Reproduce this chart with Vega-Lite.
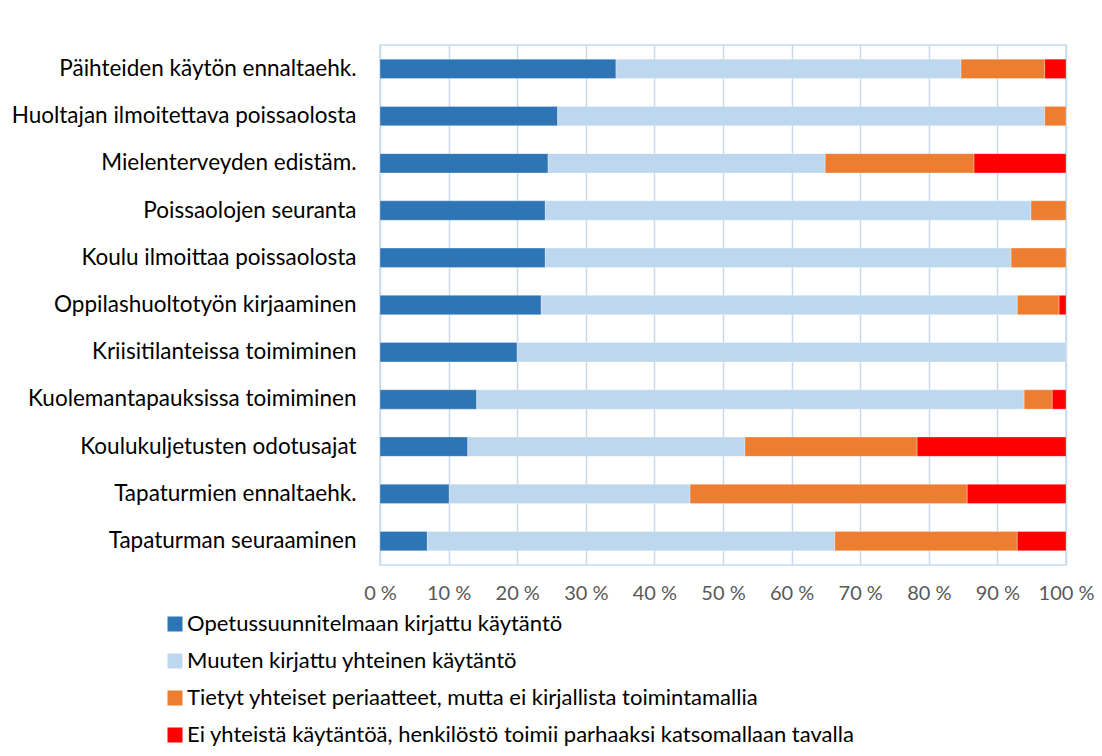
{
  "$schema": "https://vega.github.io/schema/vega-lite/v6.json",
  "width": 686,
  "height": 520,
  "autosize": {"type": "none"},
  "padding": {"left": 380, "top": 45, "right": 36, "bottom": 191},
  "background": "white",
  "config": {
    "font": "Lato",
    "view": {"stroke": "#C6DAEE", "strokeWidth": 1.5},
    "axis": {"domain": false, "ticks": false}
  },
  "data": {"values": [
    {"item": "Päihteiden käytön ennaltaehk.", "category": "Opetussuunnitelmaan kirjattu käytäntö", "rank": 1, "value": 34.4},
    {"item": "Päihteiden käytön ennaltaehk.", "category": "Muuten kirjattu yhteinen käytäntö", "rank": 2, "value": 50.3},
    {"item": "Päihteiden käytön ennaltaehk.", "category": "Tietyt yhteiset periaatteet, mutta ei kirjallista toimintamallia", "rank": 3, "value": 12.2},
    {"item": "Päihteiden käytön ennaltaehk.", "category": "Ei yhteistä käytäntöä, henkilöstö toimii parhaaksi katsomallaan tavalla", "rank": 4, "value": 3.1},
    {"item": "Huoltajan ilmoitettava poissaolosta", "category": "Opetussuunnitelmaan kirjattu käytäntö", "rank": 1, "value": 25.9},
    {"item": "Huoltajan ilmoitettava poissaolosta", "category": "Muuten kirjattu yhteinen käytäntö", "rank": 2, "value": 71.0},
    {"item": "Huoltajan ilmoitettava poissaolosta", "category": "Tietyt yhteiset periaatteet, mutta ei kirjallista toimintamallia", "rank": 3, "value": 3.1},
    {"item": "Mielenterveyden edistäm.", "category": "Opetussuunnitelmaan kirjattu käytäntö", "rank": 1, "value": 24.5},
    {"item": "Mielenterveyden edistäm.", "category": "Muuten kirjattu yhteinen käytäntö", "rank": 2, "value": 40.4},
    {"item": "Mielenterveyden edistäm.", "category": "Tietyt yhteiset periaatteet, mutta ei kirjallista toimintamallia", "rank": 3, "value": 21.7},
    {"item": "Mielenterveyden edistäm.", "category": "Ei yhteistä käytäntöä, henkilöstö toimii parhaaksi katsomallaan tavalla", "rank": 4, "value": 13.4},
    {"item": "Poissaolojen seuranta", "category": "Opetussuunnitelmaan kirjattu käytäntö", "rank": 1, "value": 24.1},
    {"item": "Poissaolojen seuranta", "category": "Muuten kirjattu yhteinen käytäntö", "rank": 2, "value": 70.8},
    {"item": "Poissaolojen seuranta", "category": "Tietyt yhteiset periaatteet, mutta ei kirjallista toimintamallia", "rank": 3, "value": 5.1},
    {"item": "Koulu ilmoittaa poissaolosta", "category": "Opetussuunnitelmaan kirjattu käytäntö", "rank": 1, "value": 24.1},
    {"item": "Koulu ilmoittaa poissaolosta", "category": "Muuten kirjattu yhteinen käytäntö", "rank": 2, "value": 67.9},
    {"item": "Koulu ilmoittaa poissaolosta", "category": "Tietyt yhteiset periaatteet, mutta ei kirjallista toimintamallia", "rank": 3, "value": 8.0},
    {"item": "Oppilashuoltotyön kirjaaminen", "category": "Opetussuunnitelmaan kirjattu käytäntö", "rank": 1, "value": 23.5},
    {"item": "Oppilashuoltotyön kirjaaminen", "category": "Muuten kirjattu yhteinen käytäntö", "rank": 2, "value": 69.4},
    {"item": "Oppilashuoltotyön kirjaaminen", "category": "Tietyt yhteiset periaatteet, mutta ei kirjallista toimintamallia", "rank": 3, "value": 6.1},
    {"item": "Oppilashuoltotyön kirjaaminen", "category": "Ei yhteistä käytäntöä, henkilöstö toimii parhaaksi katsomallaan tavalla", "rank": 4, "value": 1.0},
    {"item": "Kriisitilanteissa toimiminen", "category": "Opetussuunnitelmaan kirjattu käytäntö", "rank": 1, "value": 20.0},
    {"item": "Kriisitilanteissa toimiminen", "category": "Muuten kirjattu yhteinen käytäntö", "rank": 2, "value": 80.0},
    {"item": "Kuolemantapauksissa toimiminen", "category": "Opetussuunnitelmaan kirjattu käytäntö", "rank": 1, "value": 14.1},
    {"item": "Kuolemantapauksissa toimiminen", "category": "Muuten kirjattu yhteinen käytäntö", "rank": 2, "value": 79.8},
    {"item": "Kuolemantapauksissa toimiminen", "category": "Tietyt yhteiset periaatteet, mutta ei kirjallista toimintamallia", "rank": 3, "value": 4.1},
    {"item": "Kuolemantapauksissa toimiminen", "category": "Ei yhteistä käytäntöä, henkilöstö toimii parhaaksi katsomallaan tavalla", "rank": 4, "value": 2.0},
    {"item": "Koulukuljetusten odotusajat", "category": "Opetussuunnitelmaan kirjattu käytäntö", "rank": 1, "value": 12.8},
    {"item": "Koulukuljetusten odotusajat", "category": "Muuten kirjattu yhteinen käytäntö", "rank": 2, "value": 40.4},
    {"item": "Koulukuljetusten odotusajat", "category": "Tietyt yhteiset periaatteet, mutta ei kirjallista toimintamallia", "rank": 3, "value": 25.1},
    {"item": "Koulukuljetusten odotusajat", "category": "Ei yhteistä käytäntöä, henkilöstö toimii parhaaksi katsomallaan tavalla", "rank": 4, "value": 21.7},
    {"item": "Tapaturmien ennaltaehk.", "category": "Opetussuunnitelmaan kirjattu käytäntö", "rank": 1, "value": 10.1},
    {"item": "Tapaturmien ennaltaehk.", "category": "Muuten kirjattu yhteinen käytäntö", "rank": 2, "value": 35.1},
    {"item": "Tapaturmien ennaltaehk.", "category": "Tietyt yhteiset periaatteet, mutta ei kirjallista toimintamallia", "rank": 3, "value": 40.4},
    {"item": "Tapaturmien ennaltaehk.", "category": "Ei yhteistä käytäntöä, henkilöstö toimii parhaaksi katsomallaan tavalla", "rank": 4, "value": 14.4},
    {"item": "Tapaturman seuraaminen", "category": "Opetussuunnitelmaan kirjattu käytäntö", "rank": 1, "value": 6.9},
    {"item": "Tapaturman seuraaminen", "category": "Muuten kirjattu yhteinen käytäntö", "rank": 2, "value": 59.4},
    {"item": "Tapaturman seuraaminen", "category": "Tietyt yhteiset periaatteet, mutta ei kirjallista toimintamallia", "rank": 3, "value": 26.6},
    {"item": "Tapaturman seuraaminen", "category": "Ei yhteistä käytäntöä, henkilöstö toimii parhaaksi katsomallaan tavalla", "rank": 4, "value": 7.1}
  ]},
  "mark": {"type": "bar", "stroke": "white", "strokeWidth": 0.5, "strokeOpacity": 0.6},
  "encoding": {
    "y": {
      "field": "item",
      "type": "nominal",
      "sort": null,
      "scale": {"paddingInner": 0.59, "paddingOuter": 0.3},
      "axis": {
        "title": null,
        "grid": false,
        "labelFontSize": 22.5,
        "labelColor": "#000000",
        "labelPadding": 24,
        "labelLimit": 400
      }
    },
    "x": {
      "field": "value",
      "type": "quantitative",
      "stack": "normalize",
      "scale": {"domain": [0, 1], "nice": false},
      "axis": {
        "title": null,
        "values": [0, 0.1, 0.2, 0.3, 0.4, 0.5, 0.6, 0.7, 0.8, 0.9, 1],
        "labelExpr": "round(datum.value * 100) + ' %'",
        "labelFontSize": 20,
        "labelColor": "#595959",
        "labelPadding": 18,
        "grid": true,
        "gridColor": "#C6DAEE",
        "gridWidth": 1.5,
        "labelFlush": false
      }
    },
    "order": {"field": "rank", "type": "quantitative"},
    "color": {
      "field": "category",
      "type": "nominal",
      "scale": {
        "domain": [
          "Opetussuunnitelmaan kirjattu käytäntö",
          "Muuten kirjattu yhteinen käytäntö",
          "Tietyt yhteiset periaatteet, mutta ei kirjallista toimintamallia",
          "Ei yhteistä käytäntöä, henkilöstö toimii parhaaksi katsomallaan tavalla"
        ],
        "range": ["#2E75B6", "#BDD7EE", "#ED7D31", "#FF0000"]
      },
      "legend": {
        "title": null,
        "orient": "none",
        "legendX": -216,
        "legendY": 568,
        "direction": "vertical",
        "symbolType": "square",
        "symbolSize": 225,
        "symbolStrokeWidth": 0,
        "labelFontSize": 22,
        "labelColor": "#000000",
        "labelLimit": 900,
        "labelOffset": 1,
        "rowPadding": 15
      }
    }
  }
}
